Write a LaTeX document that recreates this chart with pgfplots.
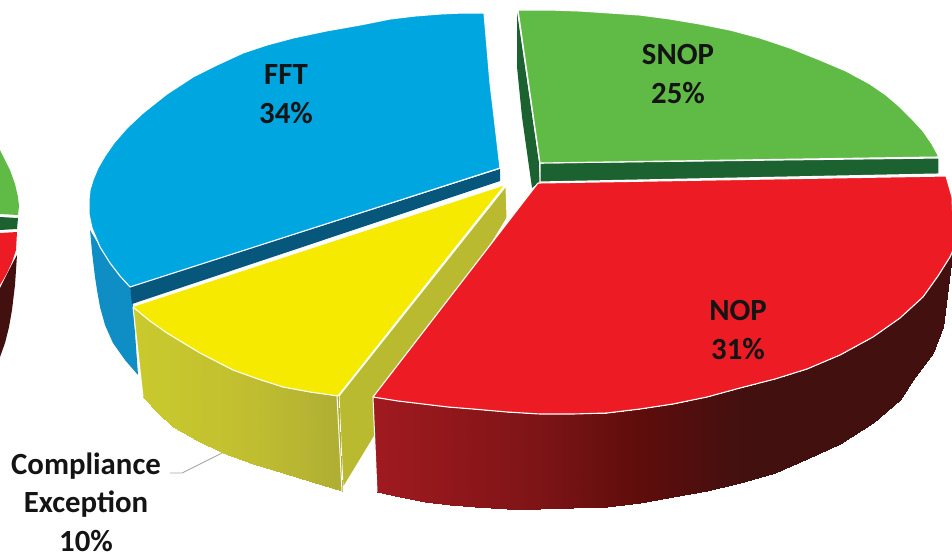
\documentclass[border=0pt]{standalone}
\usepackage{fontspec}
\setmainfont{Carlito}
\usepackage{pgfplots}
\pgfplotsset{compat=1.18}

\definecolor{bluetop}{HTML}{00A6DF}
\definecolor{bluedark}{HTML}{07567C}
\definecolor{blueside}{HTML}{0E8EC4}
\definecolor{yellowtop}{HTML}{F5EA00}
\definecolor{yellowside}{HTML}{B9BA30}
\definecolor{redtop}{HTML}{ED1C24}
\definecolor{reddark}{HTML}{431010}
\definecolor{greentop}{HTML}{60BB46}
\definecolor{greendark}{HTML}{1C6231}
\definecolor{lead}{HTML}{A6A6A6}
\definecolor{lbl}{HTML}{141414}

\pgfplotsset{
  colormap={redwall}{rgb255(0cm)=(160,26,32); rgb255(1.67cm)=(125,20,22); rgb255(2.67cm)=(94,13,11); rgb255(3.67cm)=(67,16,16); rgb255(5.79cm)=(67,16,16)},
  colormap={yellowwall}{rgb255(0cm)=(201,202,45); rgb255(1cm)=(194,192,48); rgb255(2cm)=(176,174,51)},
}

\begin{document}
\begin{tikzpicture}[lab/.style={font=\fontsize{30.8}{38.5}\selectfont\bfseries, text=lbl, align=center}]
\begin{axis}[
  scale only axis, width=952pt, height=554pt,
  xmin=0, xmax=952, ymin=0, ymax=554, y dir=reverse,
  hide axis, point meta rel=per plot,
  wedge/.style={draw=white, line width=1.1pt, line join=round, mark=none},
]
% the next pie, cut off at the left edge
\addplot[fill=greentop, draw=none] coordinates {(0,150)(5,160)(10,170)(15,184)(18,197)(19,206)(18,215)(0,214)(0,150)};
\addplot[fill=greendark, draw=none] coordinates {(0,217)(18,218)(17,229)(0,230)(0,217)};
\addplot[fill=redtop, draw=none] coordinates {(0,233)(17,232)(16,250)(12,262)(7,273)(0,285)(0,233)};
\addplot[fill=reddark, draw=none] coordinates {(0,288)(8,272)(17,255)(15,285)(12,310)(9,327)(5,343)(0,357)(0,288)};

% FFT
\addplot[fill=blueside, draw=none] coordinates {(90,230)(100,247)(110,263)(120,276)(130,287)(133,305)(138,375)(125,360)(113,343)(105,325)(100,307)(97,290)(95,277)(92,252)(90,230)};
\addplot[fill=bluedark, draw=none] coordinates {(130,287)(500,169)(500,181)(132,304)(130,287)};
\addplot[wedge, fill=bluetop] coordinates {(130,287)(120,276)(110,263)(100,247)(92,228)(89,214)(89,200)(90,190)(93,180)(98,168)(105,156)(114,143)(127,128)(143,113)(167,94)(193,77)(217,65)(243,53)(267,45)(293,38)(326,31)(360,25)(390,19)(415,16)(440,14)(462,13)(484,13)(487,48)(490,83)(495,125)(500,168)(130,287)};

% SNOP
\addplot[fill=greendark, draw=none] coordinates {(517,12)(539,163)(540,182)(532,188)(522,117)(517,67)(517,12)};
\addplot[wedge, fill=greendark] coordinates {(540,163)(939,158)(939,174)(540,182)(540,163)};
\addplot[wedge, fill=greentop] coordinates {(518,10)(550,10)(580,11)(610,13)(640,15)(670,19)(700,24)(730,30)(760,38)(790,48)(820,60)(846,71)(870,84)(886,95)(900,107)(912,119)(923,131)(932,144)(939,157)(540,163)(518,10)};

% Compliance Exception
\addplot[fill=yellowside, draw=white, line width=1pt, mark=none] coordinates {(339,396)(506,186)(507,218)(343,488)(339,396)};
\addplot[surf, shader=interp, colormap name=yellowwall, mesh/rows=2, point meta=x] coordinates {
  (133,307)(150,321)(167,333)(200,353)(233,370)(258,379)(283,387)(310,392)(338,396)

  (143,397)(158,413)(173,427)(198,441)(223,453)(253,464)(283,473)(312,482)(342,491)
};
\addplot[draw=white, line width=1pt, mark=none] coordinates {(337,396)(342,491)};
\addplot[fill=yellowtop, draw=none] coordinates {(133,307)(150,321)(167,333)(200,353)(233,370)(258,379)(283,387)(310,392)(338,396)(505,185)(133,307)};
\addplot[draw=white, line width=1.1pt, line join=round, mark=none] coordinates {(133,307)(150,321)(167,333)(200,353)(233,370)(258,379)(283,387)(310,392)(338,396)(505,185)};
\addplot[draw=white, line width=0.5pt, mark=none] coordinates {(133,306)(505,185)};
\addplot[draw=white, line width=1pt, mark=none] coordinates {(133,307)(143,397)};

% NOP
\addplot[surf, shader=interp, colormap name=redwall, mesh/rows=2, point meta=x] coordinates {
  (373,397)(398,401)(423,404)(448,407)(473,409)(507,412)(540,414)(573,414)(607,413)(640,409)(673,404)(707,397)(740,388)(775,379)(807,369)(840,355)(873,337)(900,318)(923,297)(938,276)(950,257)(953,248)

  (377,492)(400,497)(425,502)(450,505)(475,507)(507,509)(540,509)(573,508)(607,507)(640,503)(673,497)(707,491)(740,483)(775,473)(807,459)(840,444)(873,423)(900,400)(913,380)(933,353)(943,327)(947,280)
};
\addplot[draw=white, line width=1pt, mark=none] coordinates {(373,397)(377,492)};
\addplot[wedge, fill=redtop] coordinates {(538,183)(946,176)(952,197)(954,248)(950,257)(938,276)(923,297)(900,318)(873,337)(840,355)(807,369)(775,379)(740,388)(707,397)(673,404)(640,409)(607,413)(573,414)(540,414)(507,412)(473,409)(448,407)(423,404)(398,401)(373,397)(538,183)};

% leader line of the label
\addplot[draw=lead, line width=0.9pt, mark=none] coordinates {(170,473)(182,473)(222,453)};

\node[lab] at (axis cs:286,94) {FFT\\34\%};
\node[lab] at (axis cs:678,74) {SNOP\\25\%};
\node[lab] at (axis cs:738,330) {NOP\\31\%};
\node[lab] at (axis cs:86,502) {Compliance\\Exception\\10\%};
\end{axis}
\path[use as bounding box] (0,0) rectangle (952pt,554pt);
\end{tikzpicture}
\end{document}
